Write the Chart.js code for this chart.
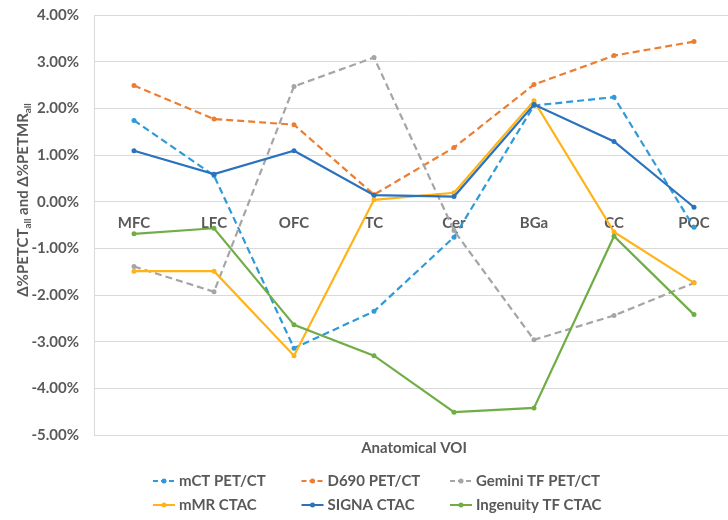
<!DOCTYPE html>
<html>
<head>
<meta charset="utf-8">
<script src="https://cdn.jsdelivr.net/npm/chart.js@4"></script>
<style>
html, body { margin: 0; padding: 0; overflow: hidden; background: #fff; }
#wrap { width: 738px; height: 520px; }
</style>
</head>
<body>
<div id="wrap"><canvas id="chart" width="738" height="520"></canvas></div>
<script>
// values are in percent
var regions = ['MFC', 'LFC', 'OFC', 'TC', 'Cer', 'BGa', 'CC', 'POC'];
var seriesNames = ['mCT PET/CT', 'D690 PET/CT', 'Gemini TF PET/CT', 'mMR CTAC', 'SIGNA CTAC', 'Ingenuity TF CTAC'];
var mctPetCt      = [1.74, 0.56, -3.14, -2.35, -0.76, 2.06, 2.24, -0.55];
var d690PetCt     = [2.49, 1.77, 1.65, 0.15, 1.16, 2.51, 3.13, 3.43];
var geminiPetCt   = [-1.39, -1.93, 2.47, 3.09, -0.62, -2.96, -2.44, -1.74];
var mmrCtac       = [-1.49, -1.49, -3.30, 0.04, 0.19, 2.16, -0.65, -1.74];
var signaCtac     = [1.09, 0.59, 1.09, 0.14, 0.11, 2.08, 1.29, -0.12];
var ingenuityCtac = [-0.69, -0.57, -2.64, -3.30, -4.51, -4.42, -0.74, -2.42];
var yMin = -5, yMax = 4, yStep = 1;

var colors = ['#2e9ad8', '#ed7d31', '#a5a5a5', '#ffb319', '#2a72bd', '#70ad47'];
var dashed = [true, true, true, false, false, false];
var allSeries = [mctPetCt, d690PetCt, geminiPetCt, mmrCtac, signaCtac, ingenuityCtac];

var textGray = '#595959';
var fontName = 'Lato, "Open Sans", sans-serif';

var datasets = allSeries.map(function (vals, i) {
    return {
        label: seriesNames[i],
        data: vals,
        borderColor: colors[i],
        backgroundColor: colors[i],
        borderWidth: 2.2,
        borderDash: dashed[i] ? [7, 4] : [],
        pointRadius: 2.5,
        pointBorderWidth: 0,
        pointBackgroundColor: colors[i],
        tension: 0,
        fill: false,
        order: -i
    };
});

// legend grid, x title and y title (with subscripts)
var extrasPlugin = {
    id: 'extras',
    afterDraw: function (chart) {
        var ctx = chart.ctx;
        ctx.save();
        ctx.fillStyle = textGray;
        ctx.font = 'bold 15px ' + fontName;
        ctx.textAlign = 'center';
        ctx.textBaseline = 'middle';
        ctx.fillText('Anatomical VOI', 414, 448);

        chart.data.datasets.forEach(function (ds, i) {
            var col = i % 3, row = Math.floor(i / 3);
            var x = 153 + col * 148.5, y = 481 + row * 24;
            ctx.strokeStyle = ds.borderColor;
            ctx.lineWidth = 2;
            ctx.setLineDash(ds.borderDash.length ? [5, 3] : []);
            ctx.beginPath();
            ctx.moveTo(x, y);
            ctx.lineTo(x + 22, y);
            ctx.stroke();
            ctx.setLineDash([]);
            ctx.fillStyle = ds.borderColor;
            ctx.beginPath();
            ctx.arc(x + 11, y, 2.5, 0, Math.PI * 2);
            ctx.fill();
            ctx.fillStyle = textGray;
            ctx.textAlign = 'left';
            ctx.font = 'bold 15px ' + fontName;
            ctx.fillText(ds.label, x + 26, y);
        });

        // y axis title
        var parts = [['Δ%PETCT', false], ['all', true], [' and Δ%PETMR', false], ['all', true]];
        var big = 'bold 15px ' + fontName, small = 'bold 10px ' + fontName;
        var total = 0;
        parts.forEach(function (p) {
            ctx.font = p[1] ? small : big;
            total += ctx.measureText(p[0]).width;
        });
        ctx.translate(23, 200);
        ctx.rotate(-Math.PI / 2);
        ctx.textAlign = 'left';
        ctx.textBaseline = 'middle';
        var pos = -total / 2;
        parts.forEach(function (p) {
            ctx.font = p[1] ? small : big;
            ctx.fillText(p[0], pos, p[1] ? 5 : 0);
            pos += ctx.measureText(p[0]).width;
        });
        ctx.restore();
    }
};

var ctx = document.getElementById('chart').getContext('2d');
var chart = new Chart(ctx, {
    type: 'line',
    data: {
        labels: regions,
        datasets: datasets
    },
    options: {
        responsive: false,
        animation: false,
        devicePixelRatio: 1,
        layout: {
            padding: { top: 15, right: 2, bottom: 85, left: 0 }
        },
        plugins: {
            legend: { display: false },
            tooltip: { enabled: false }
        },
        scales: {
            x: {
                type: 'category',
                position: { y: 0 },
                offset: true,
                grid: { display: false, drawTicks: false },
                border: { display: false },
                ticks: {
                    color: textGray,
                    font: { family: fontName, size: 15, weight: 'bold' },
                    padding: 12,
                    maxRotation: 0,
                    autoSkip: false
                }
            },
            y: {
                min: yMin,
                max: yMax,
                afterFit: function (scale) { scale.width = 94; },
                grid: { color: '#d9d9d9', lineWidth: 1, drawTicks: true, tickLength: 15, tickColor: 'rgba(0,0,0,0)' },
                border: { display: true, color: '#d9d9d9' },
                ticks: {
                    stepSize: yStep,
                    color: textGray,
                    font: { family: fontName, size: 15, weight: 'bold' },
                    padding: 0,
                    callback: function (v) { return v.toFixed(2) + '%'; }
                }
            }
        }
    },
    plugins: [extrasPlugin]
});
</script>
</body>
</html>
